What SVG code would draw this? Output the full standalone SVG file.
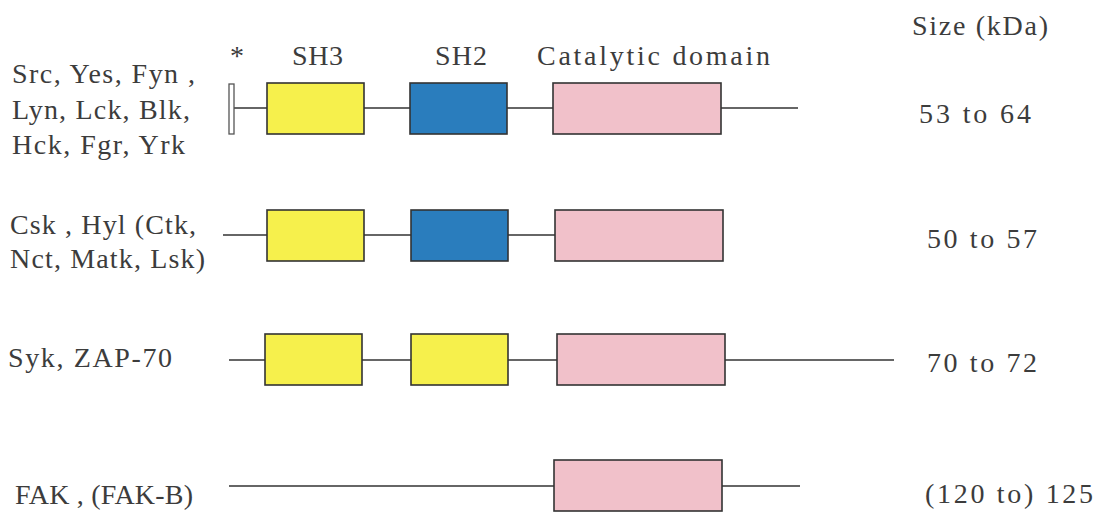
<svg xmlns="http://www.w3.org/2000/svg" width="1105" height="514" viewBox="0 0 1105 514">
  <style>
    .t { font-family: "Liberation Serif", "Times New Roman", serif; font-size: 28px; fill: #3c3c3c; }
    .ln { stroke: #333; stroke-width: 1.5; fill: none; }
    .box { stroke: #333; stroke-width: 1.6; }
    .sh3 { fill: #f6f04c; }
    .sh2 { fill: #2a7dbd; }
    .cat { fill: #f1c1ca; }
    .tip { fill: #ffffff; stroke: #555; stroke-width: 1.3; }
  </style>
  <rect width="1105" height="514" fill="#ffffff"/>

  <!-- header labels -->
  <g id="headers">
    <text class="t" x="230" y="65" font-size="23">*</text>
    <text class="t" x="292" y="65" textLength="51" lengthAdjust="spacing">SH3</text>
    <text class="t" x="435" y="65" textLength="52" lengthAdjust="spacing">SH2</text>
    <text class="t" x="537" y="65" textLength="233" lengthAdjust="spacing">Catalytic domain</text>
    <text class="t" x="912" y="35" textLength="136" lengthAdjust="spacing">Size (kDa)</text>
  </g>

  <!-- connectors (backbone lines) -->
  <g id="connectors">
    <line class="ln" x1="234" y1="108" x2="798" y2="108"/>
    <line class="ln" x1="223" y1="235" x2="555" y2="235"/>
    <line class="ln" x1="229" y1="360" x2="894" y2="360"/>
    <line class="ln" x1="229" y1="486" x2="800" y2="486"/>
  </g>

  <!-- row 1: Src family -->
  <g id="row-src">
    <text class="t" x="12" y="83" textLength="183" lengthAdjust="spacing">Src, Yes, Fyn ,</text>
    <text class="t" x="12" y="119" textLength="178" lengthAdjust="spacing">Lyn, Lck, Blk,</text>
    <text class="t" x="12" y="154" textLength="173" lengthAdjust="spacing">Hck, Fgr, Yrk</text>
    <rect class="tip" x="229" y="84" width="5" height="50"/>
    <rect class="box sh3" x="267" y="83" width="97" height="51"/>
    <rect class="box sh2" x="410" y="83" width="97" height="51"/>
    <rect class="box cat" x="553" y="83" width="168" height="51"/>
    <text class="t" x="919" y="123" textLength="112" lengthAdjust="spacing">53 to 64</text>
  </g>

  <!-- row 2: Csk family -->
  <g id="row-csk">
    <text class="t" x="10" y="234" textLength="186" lengthAdjust="spacing">Csk , Hyl (Ctk,</text>
    <text class="t" x="10" y="268" textLength="195" lengthAdjust="spacing">Nct, Matk, Lsk)</text>
    <rect class="box sh3" x="267" y="210" width="97" height="51"/>
    <rect class="box sh2" x="411" y="210" width="97" height="51"/>
    <rect class="box cat" x="555" y="210" width="168" height="51"/>
    <text class="t" x="927" y="248" textLength="110" lengthAdjust="spacing">50 to 57</text>
  </g>

  <!-- row 3: Syk family -->
  <g id="row-syk">
    <text class="t" x="8" y="367" textLength="164" lengthAdjust="spacing">Syk, ZAP-70</text>
    <rect class="box sh3" x="265" y="334" width="97" height="51"/>
    <rect class="box sh3" x="411" y="334" width="97" height="51"/>
    <rect class="box cat" x="557" y="334" width="168" height="51"/>
    <text class="t" x="927" y="372" textLength="110" lengthAdjust="spacing">70 to 72</text>
  </g>

  <!-- row 4: FAK -->
  <g id="row-fak">
    <text class="t" x="15" y="504" textLength="178" lengthAdjust="spacing">FAK , (FAK-B)</text>
    <rect class="box cat" x="554" y="460" width="168" height="51"/>
    <text class="t" x="925" y="503" textLength="168" lengthAdjust="spacing">(120 to) 125</text>
  </g>
</svg>
